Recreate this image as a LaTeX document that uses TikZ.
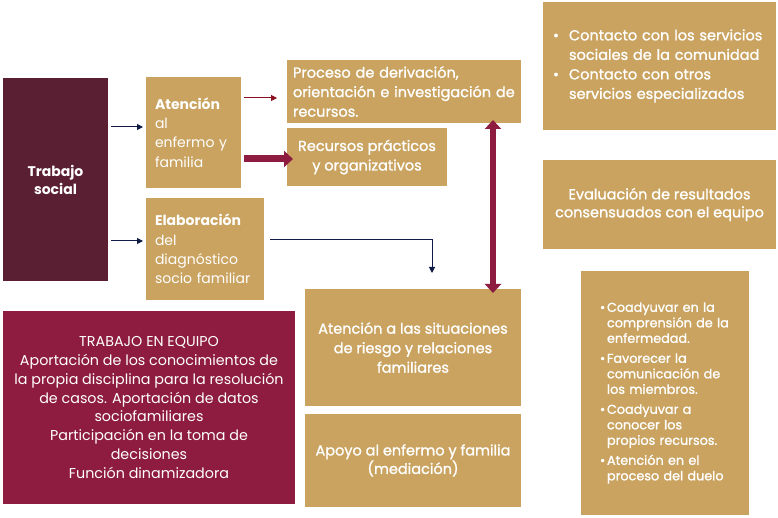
\documentclass[tikz,border=0pt]{standalone}
\usepackage{fontspec}
\setmainfont{Poppins}
\newfontfamily\semi[FakeBold=1.3]{Poppins}
\usetikzlibrary{arrows.meta,calc}
\definecolor{gold}{HTML}{C9A35F}
\definecolor{tsdark}{HTML}{5B1F34}
\definecolor{crimson}{HTML}{8D1C40}
\definecolor{navy}{HTML}{111A45}
\definecolor{darkred}{HTML}{8B1020}
\tikzset{
  box/.style={anchor=north west, inner sep=0pt, outer sep=0pt, text=white, fill=gold},
  txt/.style={font=\semi\fontsize{14.5}{19.5}\selectfont},
  navyarrow/.style={draw=navy, line width=1pt, -{Triangle[length=6pt,width=6pt]}},
  redarrow/.style={draw=darkred, line width=1pt, -{Triangle[length=6pt,width=6pt]}},
  thickarrow/.style={draw=crimson, line width=7pt, -{Triangle[length=9pt,width=16pt]}},
  dblarrow/.style={draw=crimson, line width=6pt, {Triangle[length=9pt,width=16pt]}-{Triangle[length=9pt,width=16pt]}},
}
\newcommand{\bul}[1]{\makebox[#1][l]{•}}
\begin{document}
\begin{tikzpicture}[x=1pt,y=-1pt]
\useasboundingbox[fill=white] (0,0) rectangle (778,518);

\node[box, fill=tsdark, minimum width=105pt, minimum height=203pt, align=center,
  font=\fontsize{14}{18}\selectfont\bfseries] (ts) at (3,78) {Trabajo\\social};

\node[box, minimum width=95pt, minimum height=111pt, inner xsep=9pt, text width=77pt, align=left,
  font=\fontsize{14}{19.3}\selectfont] (at) at (146,77) {\textbf{Atención}\\al\\enfermo y\\familia};

\node[box, minimum width=118pt, minimum height=102pt, inner xsep=9pt, text width=100pt, align=left,
  font=\fontsize{14}{19.3}\selectfont] (el) at (146,198) {\textbf{Elaboración}\\del\\diagnóstico\\socio familiar};

\node[box, txt, minimum width=234pt, minimum height=63pt, inner xsep=6pt, text width=222pt, align=left] (pr) at (287,60)
  {\mbox{Proceso de derivación,}\\\mbox{orientación e investigación de}\\\mbox{recursos.}};

\node[box, txt, minimum width=160pt, minimum height=58pt, align=center] (rp) at (287,128)
  {Recursos prácticos\\y organizativos};

\node[box, txt, minimum width=216pt, minimum height=117pt, align=center] (as) at (305,289)
  {Atención a las situaciones\\de riesgo y relaciones\\familiares};

\node[box, txt, minimum width=216pt, minimum height=93pt, align=center, font=\semi\fontsize{14.5}{18.5}\selectfont] (ap) at (305,414)
  {Apoyo al enfermo y familia\\(mediación)};

\node[box, txt, minimum width=233pt, minimum height=128pt, inner xsep=10pt, text width=213pt, align=left] (cs) at (543,2)
  {\bul{16pt}Contacto con los servicios\\\hspace*{16pt}sociales de la comunidad\\
   \bul{16pt}Contacto con otros\\\hspace*{16pt}servicios especializados};

\node[box, txt, minimum width=233pt, minimum height=89pt, align=center, font=\semi\fontsize{14.5}{18}\selectfont] (ev) at (543,160)
  {Evaluación de resultados\\consensuados con el equipo};

\node[box, minimum width=157pt, minimum height=244pt, inner xsep=19pt, text width=130pt, align=left,
  font=\semi\fontsize{12.8}{15.5}\selectfont] (co) at (581,271)
  {\bul{7pt}Coadyuvar en la\\\hspace*{7pt}comprensión de la\\\hspace*{7pt}enfermedad.\\[4.5pt]
   \bul{7pt}Favorecer la\\\hspace*{7pt}comunicación de\\\hspace*{7pt}los miembros.\\[4.5pt]
   \bul{7pt}Coadyuvar a\\\hspace*{7pt}conocer los\\\hspace*{7pt}propios recursos.\\[4.5pt]
   \bul{7pt}Atención en el\\\hspace*{7pt}proceso del duelo};

\node[box, fill=crimson, minimum width=292pt, minimum height=193pt, align=center,
  font=\fontsize{14.3}{18.9}\selectfont] (te) at (3,311)
  {TRABAJO EN EQUIPO\\Aportación de los conocimientos de\\la propia disciplina para la resolución\\de casos. Aportación de datos\\sociofamiliares\\Participación en la toma de\\decisiones\\Función dinamizadora};

% connectors
\draw[navyarrow] ($(ts.east |- at.west)+(3,-5.5)$) -- ($(at.west)+(-3,-5.5)$);
\draw[navyarrow] ($(ts.east |- el.west)+(3,-8)$) -- ($(el.west)+(-3,-8)$);
\draw[redarrow] ($(at.east |- pr.west)+(3,6.5)$) -- ($(pr.west)+(-10,6.5)$);
\draw[thickarrow] ($(at.east |- rp.west)+(3,2)$) -- ($(rp.west)+(6,2)$);
\draw[navyarrow] ($(el.east)+(6,-9)$) -| ($(as.north)+(19,-16)$);
\draw[dblarrow] ($(pr.south east)+(-28,-3)$) -- ($(as.north east)+(-28,4)$);
\end{tikzpicture}
\end{document}
